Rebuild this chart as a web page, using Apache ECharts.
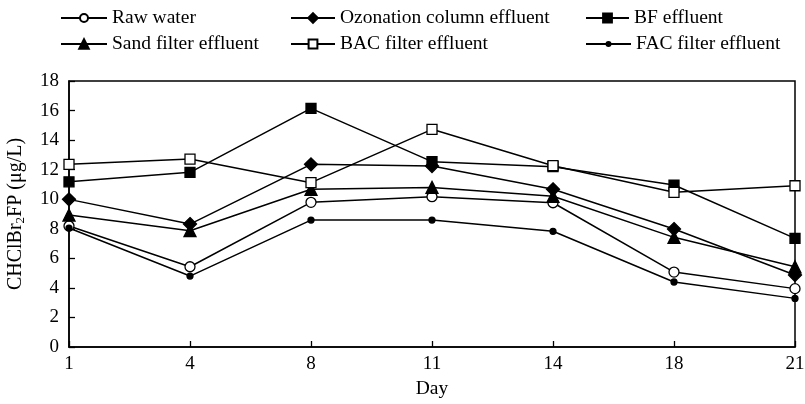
<!DOCTYPE html>
<html><head><meta charset="utf-8">
<script src="https://cdn.jsdelivr.net/npm/echarts@6/dist/echarts.min.js"></script>
<style>html,body{margin:0;padding:0;background:#fff}#c{width:805px;height:404px}</style>
</head><body><div id="c"></div>
<script>
const days = ['1','4','8','11','14','18','21'];
const rawWater = [8.19, 5.43, 9.79, 10.17, 9.76, 5.07, 3.95];
const ozonation = [9.99, 8.32, 12.36, 12.25, 10.67, 7.98, 4.87];
const bf = [11.18, 11.82, 16.15, 12.54, 12.2, 10.96, 7.35];
const sand = [8.93, 7.87, 10.67, 10.8, 10.2, 7.42, 5.43];
const bac = [12.36, 12.72, 11.12, 14.73, 12.27, 10.47, 10.91];
const fac = [8.05, 4.8, 8.59, 8.59, 7.83, 4.40, 3.29];
const yTicks = [0, 2, 4, 6, 8, 10, 12, 14, 16, 18];

const FONT = 'Liberation Serif';
const names = ['Raw water','Ozonation column effluent','BF effluent','Sand filter effluent','BAC filter effluent','FAC filter effluent'];

function ser(name, data, symbol, size, fill) {
  return {
    name, type: 'line', data, symbol, symbolSize: size,
    lineStyle: {color: '#000', width: 1.5},
    itemStyle: {color: fill, borderColor: '#000', borderWidth: 1.3},
    emphasis: {disabled: true}, z: 3
  };
}
function leg(name, left, rowY, h, w) {
  return {
    left, top: rowY - 9, padding: 0, itemWidth: w, itemHeight: h,
    data: [name], textStyle: {fontFamily: FONT, fontSize: 19.5, color: '#000', lineHeight: 18},
    selectedMode: false
  };
}
const chart = echarts.init(document.getElementById('c'));
chart.setOption({
  animation: false,
  backgroundColor: '#fff',
  legend: [
    leg(names[0], 60, 17, 10, 46),
    leg(names[3], 60, 43, 12, 46),
    leg(names[1], 290, 17, 12, 44),
    leg(names[4], 290, 43, 11, 44),
    leg(names[2], 585, 17, 11, 43),
    leg(names[5], 585, 43, 5, 45)
  ],
  grid: {left: 69, right: 10, top: 81, bottom: 57, outerBoundsMode: 'none', containLabel: false,
         show: true, borderColor: '#000', borderWidth: 1.5},
  xAxis: {
    type: 'category', data: days, boundaryGap: false,
    name: 'Day', nameLocation: 'middle', nameGap: 32,
    nameTextStyle: {fontFamily: FONT, fontSize: 19.5, color: '#000'},
    axisLine: {lineStyle: {color: '#000', width: 1.5}},
    axisTick: {inside: true, length: 6, lineStyle: {color: '#000', width: 1.3}},
    axisLabel: {fontFamily: FONT, fontSize: 19, color: '#000', margin: 8},
    splitLine: {show: false}
  },
  yAxis: {
    type: 'value', min: yTicks[0], max: yTicks[yTicks.length-1], interval: yTicks[1]-yTicks[0],
    name: '{a|CHClBr}{s|2}{a|FP (μg/L)}', nameLocation: 'middle', nameGap: 42,
    nameTextStyle: {rich: {a: {fontFamily: FONT, fontSize: 20, color: '#000'}, s: {fontFamily: FONT, fontSize: 13, color: '#000', padding: [9,0,0,0]}}},
    axisLine: {show: true, lineStyle: {color: '#000', width: 1.5}},
    axisTick: {show: true, inside: true, length: 6, lineStyle: {color: '#000', width: 1.3}},
    axisLabel: {fontFamily: FONT, fontSize: 19, color: '#000', margin: 10},
    splitLine: {show: false}
  },
  series: [
    ser(names[0], rawWater, 'circle', 10, '#fff'),
    ser(names[1], ozonation, 'diamond', 13, '#000'),
    ser(names[2], bf, 'rect', 10, '#000'),
    ser(names[3], sand, 'triangle', 12, '#000'),
    ser(names[4], bac, 'rect', 10, '#fff'),
    ser(names[5], fac, 'circle', 6, '#000')
  ]
});
</script></body></html>
